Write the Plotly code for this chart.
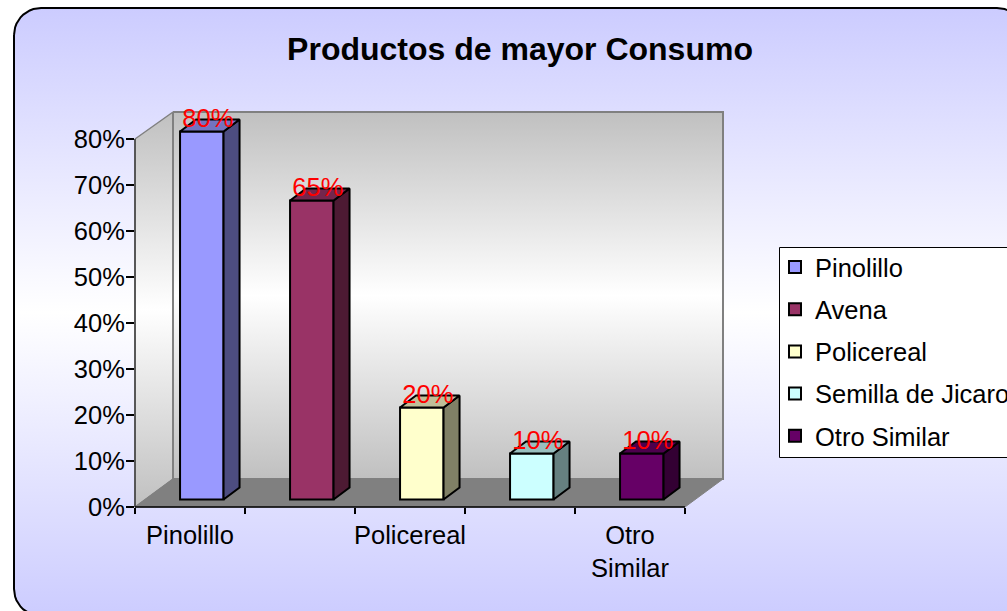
import numpy as np
import plotly.graph_objects as go

# Data
categories = ['Pinolillo', 'Avena', 'Policereal', 'Semilla de Jicaro', 'Otro Similar']
values = [0.80, 0.65, 0.20, 0.10, 0.10]
value_labels = ['80%', '65%', '20%', '10%', '10%']
x_tick_labels = ['Pinolillo', 'Policereal', 'Otro<br>Similar']
x_tick_positions = [0, 2, 4]

front_colors = ['#9999FF', '#993366', '#FFFFCC', '#CCFFFF', '#660066']
side_colors = ['#4D4D80', '#4D1A33', '#808066', '#668080', '#330033']
top_colors = ['#7373BF', '#73264D', '#BFBF99', '#99BFBF', '#4D004D']

W, H = 1007, 611
FONT = 'Liberation Sans, Arial, sans-serif'

# pixel box of the axes (front left corner to back right corner)
AX_L, AX_R, AX_T, AX_B = 135, 723, 112, 507
PX_PER_CAT = 110
PX_PER_UNIT = 460

# fake 3d: depth of the bars and how far they sit from the front edge
BAR_W = 43.5 / PX_PER_CAT
BAR_SHIFT = 11.8 / PX_PER_CAT
BAR_BASE = 7.5 / PX_PER_UNIT
DEPTH_X = 16 / PX_PER_CAT
DEPTH_Y = 12 / PX_PER_UNIT
LABEL_DX = -2 / PX_PER_CAT
LABEL_DY = -1.5 / PX_PER_UNIT

fig = go.Figure()


def rounded_frame(l, t, r, b, rad):
    pts = []
    for cx, cy, a0 in [(l + rad, t + rad, 180), (r - rad, t + rad, 270),
                       (r - rad, b - rad, 0), (l + rad, b - rad, 90)]:
        for a in np.radians(np.linspace(a0, a0 + 90, 12)):
            pts.append((cx + rad * np.cos(a), cy + rad * np.sin(a)))
    pts.append(pts[0])
    return [p[0] for p in pts], [p[1] for p in pts]


def backdrop(xs, ys, fill=None, scale=None, line='#808080', width=1.5):
    trace = dict(x=xs, y=ys, mode='lines', line=dict(color=line, width=width),
                 fill='toself', hoverinfo='skip', showlegend=False, xaxis='x', yaxis='y')
    if scale:
        trace['fillgradient'] = dict(type='vertical', colorscale=scale)
    else:
        trace['fillcolor'] = fill
    fig.add_trace(go.Scatter(**trace))


# chart area with its rounded border
fx, fy = rounded_frame(14, 8, 1024, 616, 27)
backdrop(fx, fy, scale=[[0, '#CCCCFF'], [0.5, '#FFFFFF'], [1, '#CCCCFF']], line='#000000', width=2)

# walls and floor
wall_scale = [[0, '#C0C0C0'], [0.5, '#FFFFFF'], [1, '#C0C0C0']]
backdrop([135, 173, 173, 135, 135], [139, 112, 479, 507, 139], scale=wall_scale, width=1.5)
backdrop([173, 723, 723, 173, 173], [112, 112, 479, 479, 112], scale=wall_scale, width=2)
backdrop([135, 685, 723, 173, 135], [507, 507, 479, 479, 507], fill='#808080', width=1)
fig.add_trace(go.Scatter(x=[135, 135], y=[139, 507], mode='lines', line=dict(color='#404040', width=1.5),
                         hoverinfo='skip', showlegend=False, xaxis='x', yaxis='y'))
fig.add_trace(go.Scatter(x=[135, 685], y=[507, 507], mode='lines', line=dict(color='#000000', width=1.5),
                         hoverinfo='skip', showlegend=False, xaxis='x', yaxis='y'))

# legend box, open on the right like the original which runs off the chart
backdrop([1020, 779.5, 779.5, 1020], [247.5, 247.5, 457.5, 457.5], fill='#FFFFFF', line='#000000', width=1)

for i, name in enumerate(categories):
    xl = i + BAR_SHIFT - BAR_W / 2
    xr = xl + BAR_W
    top = BAR_BASE + values[i]
    # front face
    fig.add_trace(go.Bar(
        name=name, legendgroup=name,
        x=[i + BAR_SHIFT], y=[values[i]], base=BAR_BASE, width=BAR_W,
        marker=dict(color=front_colors[i], line=dict(color='#000000', width=2)),
        xaxis='x2', yaxis='y2', hovertemplate=name + ': %{y:.0%}<extra></extra>',
    ))
    # right side
    fig.add_trace(go.Scatter(
        x=[xr, xr + DEPTH_X, xr + DEPTH_X, xr, xr],
        y=[BAR_BASE, BAR_BASE + DEPTH_Y, top + DEPTH_Y, top, BAR_BASE],
        mode='lines', fill='toself', fillcolor=side_colors[i], line=dict(color='#000000', width=2),
        hoverinfo='skip', showlegend=False, xaxis='x2', yaxis='y2',
    ))
    # top
    fig.add_trace(go.Scatter(
        x=[xl, xr, xr + DEPTH_X, xl + DEPTH_X, xl],
        y=[top, top, top + DEPTH_Y, top + DEPTH_Y, top],
        mode='lines', fill='toself', fillcolor=top_colors[i], line=dict(color='#000000', width=2),
        hoverinfo='skip', showlegend=False, xaxis='x2', yaxis='y2',
    ))

# data labels
fig.add_trace(go.Scatter(
    x=[i + BAR_SHIFT + DEPTH_X / 2 + LABEL_DX for i in range(len(values))],
    y=[v + BAR_BASE + DEPTH_Y + LABEL_DY for v in values],
    text=value_labels, mode='text', textposition='middle center',
    textfont=dict(family=FONT, size=25.5, color='#FF0000'),
    hoverinfo='skip', showlegend=False, cliponaxis=False, xaxis='x2', yaxis='y2',
))

fig.update_layout(
    width=W, height=H,
    margin=dict(l=0, r=0, t=0, b=0, autoexpand=False),
    paper_bgcolor='#FFFFFF',
    plot_bgcolor='rgba(0,0,0,0)',
    barmode='overlay',
    font=dict(family=FONT, size=25.5, color='#000000'),
    title=dict(text='<b>Productos de mayor Consumo</b>', x=520 / W, xanchor='center', y=1 - 49 / H,
               yanchor='middle', font=dict(family=FONT, size=32, color='#000000')),
    xaxis=dict(domain=[0, 1], range=[0, W], visible=False, fixedrange=True),
    yaxis=dict(domain=[0, 1], range=[H, 0], visible=False, fixedrange=True),
    xaxis2=dict(
        domain=[AX_L / W, AX_R / W], anchor='y2',
        range=[-0.5, -0.5 + (AX_R - AX_L) / PX_PER_CAT],
        tickmode='array', tickvals=x_tick_positions, ticktext=x_tick_labels,
        ticks='', showgrid=False, zeroline=False, showline=False, ticklabelstandoff=10,
        minor=dict(ticks='outside', tick0=-0.5, dtick=1, ticklen=6, tickwidth=1.5, tickcolor='#000000', showgrid=False),
    ),
    yaxis2=dict(
        domain=[1 - AX_B / H, 1 - AX_T / H], anchor='x2',
        range=[0, (AX_B - AX_T) / PX_PER_UNIT],
        tickmode='array', tickvals=[0, 0.1, 0.2, 0.3, 0.4, 0.5, 0.6, 0.7, 0.8],
        ticktext=['0%', '10%', '20%', '30%', '40%', '50%', '60%', '70%', '80%'],
        ticks='outside', ticklen=8, tickwidth=1.5, tickcolor='#000000', ticklabelstandoff=-4,
        showgrid=False, zeroline=False, showline=False,
    ),
    legend=dict(
        x=775 / W, xanchor='left', y=1 - 244 / H, yanchor='top',
        bgcolor='rgba(0,0,0,0)', borderwidth=0, traceorder='grouped', tracegroupgap=6,
        entrywidth=190, entrywidthmode='pixels', font=dict(family=FONT, size=25.5, color='#000000'),
        itemclick=False, itemdoubleclick=False,
    ),
)

# the page's default margin would push the chart off the window
fig.write_html('out.html', post_script="document.body.style.margin = '0';", config={'displayModeBar': False})
